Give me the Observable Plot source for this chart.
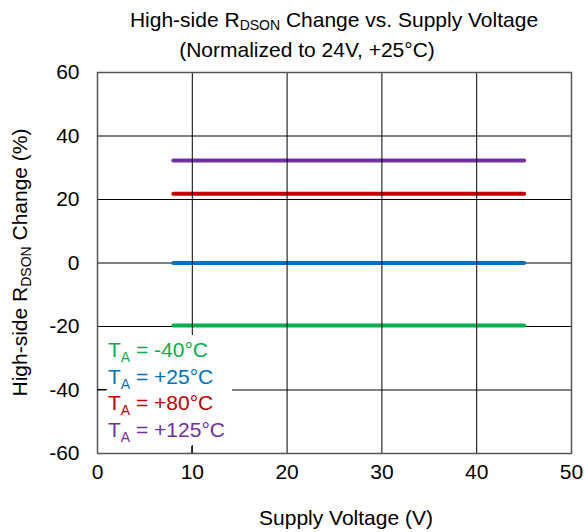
<!DOCTYPE html>
<html>
<head>
<meta charset="utf-8">
<script src="https://cdn.jsdelivr.net/npm/d3@7"></script>
<script src="https://cdn.jsdelivr.net/npm/@observablehq/plot@0.6"></script>
<style>
  body { margin: 0; background: #fff; font-family: "Liberation Sans", Arial, sans-serif; }
  #wrap { position: relative; width: 584px; height: 532px; }
  .t { position: absolute; width: 584px; text-align: center; font-size: 21px; line-height: 24px; color: #000; white-space: nowrap; z-index: 2; }
  .t sub { font-size: 14px; vertical-align: -3px; line-height: 0; }
  #chart { position: absolute; left: 0; top: 50px; z-index: 1; }
</style>
</head>
<body>
<div id="wrap">
  <div class="t" style="left:42px; top:8px;">High-side R<sub>DSON</sub> Change vs. Supply Voltage</div>
  <div class="t" style="left:15px; top:38px;">(Normalized to 24V, +25°C)</div>
  <div id="chart"></div>
</div>
<script>
const xTicks = [0, 10, 20, 30, 40, 50];
const yTicks = [-60, -40, -20, 0, 20, 40, 60];
const voltage = [8, 45];
const temps = ["-40°C", "+25°C", "+80°C", "+125°C"];
const change_m40 = [-19.7, -19.7];
const change_p25 = [0, 0];
const change_p80 = [21.8, 21.8];
const change_p125 = [32.3, 32.3];
const colors = ["#00B050", "#0070C0", "#C00000", "#7030A0"];

const seriesValues = [change_m40, change_p25, change_p80, change_p125];
const data = [];
temps.forEach((t, i) => voltage.forEach((v, j) => data.push({temp: t, v, c: seriesValues[i][j]})));

const font = '"Liberation Sans", Arial, sans-serif';
const top0 = 50;
const plot = Plot.plot({
  width: 584,
  height: 532 - top0,
  marginLeft: 97,
  marginRight: 13,
  marginTop: 72 - top0,
  marginBottom: 79,
  style: {fontSize: "21px", fontFamily: font, color: "#000", background: "transparent"},
  x: {domain: [0, 50]},
  y: {domain: [-60, 60]},
  color: {domain: temps, range: colors},
  marks: [
    Plot.ruleY(yTicks, {stroke: "#000", strokeWidth: 1}),
    Plot.line(data, {x: "v", y: "c", z: "temp", stroke: "temp", strokeWidth: 4}),
    Plot.ruleX(xTicks, {stroke: "#000", strokeWidth: 1}),
    Plot.frame({stroke: "#555", strokeWidth: 1.5}),
    Plot.axisX(xTicks, {tickSize: 0, tickPadding: 11, label: null, fontSize: 21, tickFormat: d => String(d)}),
    Plot.axisY(yTicks, {tickSize: 0, tickPadding: 18, label: null, fontSize: 21, tickFormat: d => String(d)})
  ]
});
document.getElementById("chart").appendChild(plot);

const svg = d3.select(plot);
const xs = plot.scale("x"), ys = plot.scale("y");

// axis labels
svg.append("text")
  .attr("x", 346)
  .attr("y", 525 - top0)
  .attr("text-anchor", "middle")
  .attr("font-size", 21).attr("font-family", font)
  .text("Supply Voltage (V)");

const yl = svg.append("text")
  .attr("transform", `translate(27,${(ys.apply(-60) + ys.apply(60)) / 2}) rotate(-90)`)
  .attr("text-anchor", "middle")
  .attr("font-size", 21).attr("font-family", font);
yl.append("tspan").text("High-side R");
yl.append("tspan").attr("font-size", 14).attr("dy", 4).text("DSON");
yl.append("tspan").attr("dy", -4).text(" Change (%)");

// legend box
const lx0 = xs.apply(0);
svg.append("rect")
  .attr("x", lx0 + 9).attr("y", 335 - top0).attr("width", 126).attr("height", 110)
  .attr("fill", "#fff");
// inward ticks over legend box
svg.append("line").attr("x1", xs.apply(10)).attr("x2", xs.apply(10))
  .attr("y1", ys.apply(-60)).attr("y2", ys.apply(-60) - 7).attr("stroke", "#000");
svg.append("line").attr("x1", lx0).attr("x2", lx0 + 10)
  .attr("y1", ys.apply(-40)).attr("y2", ys.apply(-40)).attr("stroke", "#000");

temps.forEach((t, i) => {
  const tx = svg.append("text")
    .attr("x", lx0 + 11)
    .attr("y", 357 - top0 + i * 26.5)
    .attr("text-anchor", "start")
    .attr("font-size", 21).attr("font-family", font)
    .attr("fill", colors[i]);
  tx.append("tspan").text("T");
  tx.append("tspan").attr("font-size", 14).attr("dy", 5).text("A");
  tx.append("tspan").attr("dy", -5).text(" = " + t);
});
</script>
</body>
</html>
